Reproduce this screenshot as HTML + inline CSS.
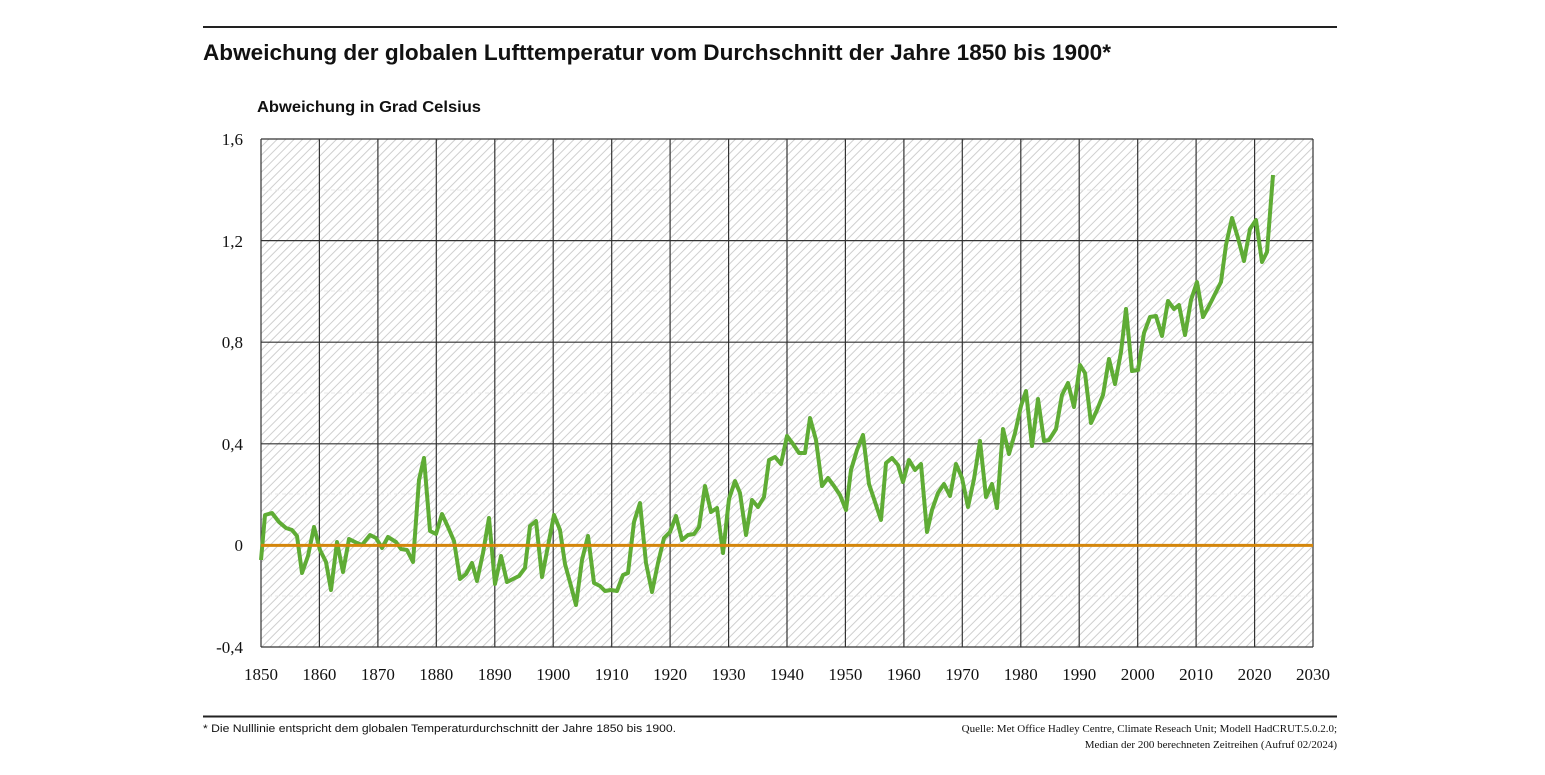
<!DOCTYPE html>
<html><head><meta charset="utf-8"><style>html,body{margin:0;padding:0;background:#fff}svg{display:block}</style></head>
<body>
<svg width="1545" height="775" viewBox="0 0 1545 775" xmlns="http://www.w3.org/2000/svg">
<defs>
<pattern id="h" patternUnits="userSpaceOnUse" width="6" height="6" patternTransform="rotate(45)">
<rect width="6" height="6" fill="#fff"/>
<line x1="0" y1="0" x2="0" y2="6" stroke="#cfcfcf" stroke-width="2"/>
</pattern>
</defs>
<line x1="203" y1="27" x2="1337" y2="27" stroke="#222" stroke-width="2"/>
<text x="203" y="60" font-family="Liberation Sans, sans-serif" font-weight="bold" font-size="22" textLength="908" lengthAdjust="spacingAndGlyphs" fill="#111">Abweichung der globalen Lufttemperatur vom Durchschnitt der Jahre 1850 bis 1900*</text>
<text x="257" y="112" font-family="Liberation Sans, sans-serif" font-weight="bold" font-size="16" textLength="224" lengthAdjust="spacingAndGlyphs" fill="#111">Abweichung in Grad Celsius</text>
<rect x="261" y="139" width="1052" height="508" fill="url(#h)"/>
<g stroke="#e8e8e8" stroke-width="1" stroke-dasharray="4,3">
<line x1="261" y1="190" x2="1313" y2="190"/><line x1="261" y1="291" x2="1313" y2="291"/><line x1="261" y1="393" x2="1313" y2="393"/><line x1="261" y1="494" x2="1313" y2="494"/><line x1="261" y1="596" x2="1313" y2="596"/>
</g>
<g stroke="#333" stroke-width="1.2">
<line x1="261" y1="139" x2="1313" y2="139"/><line x1="261" y1="240.6" x2="1313" y2="240.6"/><line x1="261" y1="342.2" x2="1313" y2="342.2"/><line x1="261" y1="443.8" x2="1313" y2="443.8"/><line x1="261" y1="647" x2="1313" y2="647"/>
<line x1="261" y1="139" x2="261" y2="647"/><line x1="319.4" y1="139" x2="319.4" y2="647"/><line x1="377.9" y1="139" x2="377.9" y2="647"/><line x1="436.3" y1="139" x2="436.3" y2="647"/><line x1="494.8" y1="139" x2="494.8" y2="647"/><line x1="553.2" y1="139" x2="553.2" y2="647"/><line x1="611.7" y1="139" x2="611.7" y2="647"/><line x1="670.1" y1="139" x2="670.1" y2="647"/><line x1="728.6" y1="139" x2="728.6" y2="647"/><line x1="787" y1="139" x2="787" y2="647"/><line x1="845.4" y1="139" x2="845.4" y2="647"/><line x1="903.9" y1="139" x2="903.9" y2="647"/><line x1="962.3" y1="139" x2="962.3" y2="647"/><line x1="1020.8" y1="139" x2="1020.8" y2="647"/><line x1="1079.2" y1="139" x2="1079.2" y2="647"/><line x1="1137.7" y1="139" x2="1137.7" y2="647"/><line x1="1196.1" y1="139" x2="1196.1" y2="647"/><line x1="1254.6" y1="139" x2="1254.6" y2="647"/><line x1="1313" y1="139" x2="1313" y2="647"/>
</g>
<polyline fill="none" stroke="#5fac35" stroke-width="4" stroke-linejoin="round" points="261,560 265,515 272,513 279,522 286,528 292,530 297,536 302,573 308,556 314,527 320,550 326,562 331,590 337,542 343,572 349,539 357,543 362,545 370,535 376,538 382,548 388,537 396,542 401,549 407,550 413,562 419,480 424,458 430,531 436,534 442,514 448,527 454,541 460,579 466,574 472,563 477,581 483,553 489,518 495,584 501,556 507,582 513,579 519,576 525,568 530,526 536,521 542,577 548,546 554,515 560,530 565,564 571,586 576,605 582,560 588,536 594,583 600,586 605,591 611,590 617,591 623,575 628,573 634,522 640,503 646,563 652,592 658,563 664,538 670,532 676,516 682,540 688,535 694,534 699,527 705,486 711,512 717,508 723,553 729,499 735,481 740,493 746,535 752,500 758,507 764,497 769,460 775,457 781,464 787,436 793,444 799,453 805,453 810,418 816,440 822,486 828,478 834,486 840,495 846,510 851,470 857,450 863,435 869,484 875,502 881,520 886,463 892,458 898,465 903,482 909,460 915,470 921,464 927,532 932,510 938,493 944,484 950,496 956,464 962,478 968,507 974,479 980,441 986,497 992,484 997,508 1003,429 1009,454 1015,433 1021,406 1026,391 1032,446 1038,399 1044,441 1049,440 1056,429 1062,395 1068,383 1074,407 1080,365 1085,373 1091,423 1097,410 1103,395 1109,359 1115,384 1121,352 1126,309 1132,371 1138,370 1144,333 1150,317 1156,316 1162,336 1168,301 1174,309 1179,305 1185,335 1191,300 1197,282 1203,317 1209,306 1215,294 1221,282 1226,245 1232,218 1238,238 1244,261 1250,229 1256,220 1262,262 1267,252 1273,175"/>
<line x1="261" y1="545.4" x2="1313" y2="545.4" stroke="#d4860b" stroke-width="3"/>
<g font-family="Liberation Serif, serif" font-size="17" fill="#111" text-anchor="end">
<text x="243" y="145">1,6</text><text x="243" y="247">1,2</text><text x="243" y="348">0,8</text><text x="243" y="450">0,4</text><text x="243" y="551">0</text><text x="243" y="653">-0,4</text>
</g>
<g font-family="Liberation Serif, serif" font-size="17" fill="#111" text-anchor="middle">
<text x="261" y="680">1850</text><text x="319.4" y="680">1860</text><text x="377.9" y="680">1870</text><text x="436.3" y="680">1880</text><text x="494.8" y="680">1890</text><text x="553.2" y="680">1900</text><text x="611.7" y="680">1910</text><text x="670.1" y="680">1920</text><text x="728.6" y="680">1930</text><text x="787" y="680">1940</text><text x="845.4" y="680">1950</text><text x="903.9" y="680">1960</text><text x="962.3" y="680">1970</text><text x="1020.8" y="680">1980</text><text x="1079.2" y="680">1990</text><text x="1137.7" y="680">2000</text><text x="1196.1" y="680">2010</text><text x="1254.6" y="680">2020</text><text x="1313" y="680">2030</text>
</g>
<line x1="203" y1="716.5" x2="1337" y2="716.5" stroke="#222" stroke-width="2"/>
<text x="203" y="732" font-family="Liberation Sans, sans-serif" font-size="11" textLength="473" lengthAdjust="spacingAndGlyphs" fill="#111">* Die Nulllinie entspricht dem globalen Temperaturdurchschnitt der Jahre 1850 bis 1900.</text>
<text x="1337" y="732" text-anchor="end" font-family="Liberation Serif, serif" font-size="11" fill="#111">Quelle: Met Office Hadley Centre, Climate Reseach Unit; Modell HadCRUT.5.0.2.0;</text>
<text x="1337" y="748" text-anchor="end" font-family="Liberation Serif, serif" font-size="11" fill="#111">Median der 200 berechneten Zeitreihen (Aufruf 02/2024)</text>
</svg>
</body></html>
